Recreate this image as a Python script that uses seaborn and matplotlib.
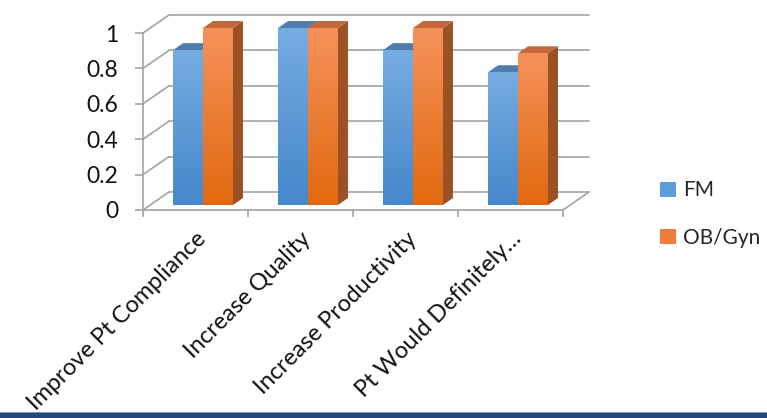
import numpy as np
import pandas as pd
import matplotlib
matplotlib.use("Agg")
import matplotlib.pyplot as plt
import seaborn as sns
from matplotlib.patches import Polygon, Rectangle, Patch
from matplotlib.lines import Line2D
from matplotlib.transforms import ScaledTranslation, IdentityTransform
from matplotlib.colors import LinearSegmentedColormap

# Survey results: share of respondents agreeing, by specialty
categories = ["Improve Pt Compliance", "Increase Quality",
              "Increase Productivity", "Pt Would Definitely…"]
fm_values = [0.875, 1.0, 0.875, 0.75]
obgyn_values = [1.0, 1.0, 1.0, 0.857]
series = ["FM", "OB/Gyn"]
y_ticks = [0, 0.2, 0.4, 0.6, 0.8, 1]
y_tick_labels = ["0", "0.2", "0.4", "0.6", "0.8", "1"]

df = pd.DataFrame({
    "category": categories * 2,
    "value": fm_values + obgyn_values,
    "series": [series[0]] * len(categories) + [series[1]] * len(categories),
})

sns.set_theme(style="white")
plt.rcParams["font.family"] = ["Lato", "DejaVu Sans"]

DPI = 100
W, H = 767, 418
fig = plt.figure(figsize=(W / DPI, H / DPI), dpi=DPI)
ax = fig.add_axes([143 / W, (H - 210) / H, 420 / W, 177 / H])

palette = {"FM": "#5B9BD5", "OB/Gyn": "#ED7D31"}
sns.barplot(data=df, x="category", y="value", hue="series", order=categories,
            hue_order=series, palette=palette, width=0.571, dodge=True,
            saturation=1, legend=False, ax=ax, zorder=3)
ax.set_xlim(-0.5, 3.5)
ax.set_ylim(0, 1)

GRAY = "#A3A3A3"
LW = 1.2
# pseudo-3D geometry (pixels)
BAR_DX, BAR_DY = 7.5, 5      # bars sit a bit behind the front axis
DEPTH_X, DEPTH_Y = 10, 7     # bar depth
WALL_DX, WALL_DY = 26, 18    # back wall offset


def px_shift(dx, dy):
    return ax.transData + ScaledTranslation(dx / DPI, dy / DPI, fig.dpi_scale_trans)


def disp(x, y, dx=0.0, dy=0.0):
    p = ax.transData.transform((x, y))
    return (p[0] + dx, p[1] + dy)


# back wall gridlines
for yv in y_ticks:
    ax.plot([-0.5, 3.5], [yv, yv], transform=px_shift(WALL_DX, WALL_DY),
            color=GRAY, lw=LW, zorder=1, clip_on=False)
    # left side-wall diagonals
    ax.add_line(Line2D(*zip(disp(-0.5, yv), disp(-0.5, yv, WALL_DX, WALL_DY)),
                       transform=IdentityTransform(), color=GRAY, lw=LW,
                       zorder=1, clip_on=False))
# floor right edge
ax.add_line(Line2D(*zip(disp(3.5, 0), disp(3.5, 0, WALL_DX, WALL_DY)),
                   transform=IdentityTransform(), color=GRAY, lw=LW,
                   zorder=1, clip_on=False))

grad = {
    "FM": LinearSegmentedColormap.from_list("fm", ["#4686CB", "#76ADE1"]),
    "OB/Gyn": LinearSegmentedColormap.from_list("ob", ["#E2690F", "#F5925A"]),
}
top_col = {"FM": "#517DAE", "OB/Gyn": "#C4683C"}
side_col = {"FM": "#3E6A9A", "OB/Gyn": "#9C5124"}

bars = list(ax.patches)
n = len(categories)
gradient = np.linspace(1, 0, 256).reshape(-1, 1)
for i, bar in enumerate(bars):
    key = series[i // n]
    x0, w, h = bar.get_x(), bar.get_width(), bar.get_height()
    x1 = x0 + w
    bar.set_transform(px_shift(BAR_DX, BAR_DY))
    bar.set_edgecolor("none")
    bar.set_clip_on(False)
    im = ax.imshow(gradient, cmap=grad[key], extent=[x0, x1, 0, h],
                   aspect="auto", zorder=3.5, interpolation="bilinear",
                   transform=px_shift(BAR_DX, BAR_DY))
    im.set_clip_on(False)
    side = [disp(x1, 0, BAR_DX, BAR_DY), disp(x1, 0, BAR_DX + DEPTH_X, BAR_DY + DEPTH_Y),
            disp(x1, h, BAR_DX + DEPTH_X, BAR_DY + DEPTH_Y), disp(x1, h, BAR_DX, BAR_DY)]
    top = [disp(x0, h, BAR_DX, BAR_DY), disp(x1, h, BAR_DX, BAR_DY),
           disp(x1, h, BAR_DX + DEPTH_X, BAR_DY + DEPTH_Y),
           disp(x0, h, BAR_DX + DEPTH_X, BAR_DY + DEPTH_Y)]
    ax.add_patch(Polygon(side, closed=True, transform=IdentityTransform(),
                         facecolor=side_col[key], edgecolor="none",
                         zorder=2 + 0.1 * (i // n), clip_on=False))
    ax.add_patch(Polygon(top, closed=True, transform=IdentityTransform(),
                         facecolor=top_col[key], edgecolor="none",
                         zorder=2 + 0.1 * (i // n), clip_on=False))

ax.set_xlim(-0.5, 3.5)
ax.set_ylim(0, 1)

# front axes
for s in ["top", "right"]:
    ax.spines[s].set_visible(False)
for s in ["left", "bottom"]:
    ax.spines[s].set_color(GRAY)
    ax.spines[s].set_linewidth(LW)
ax.set_yticks(y_ticks)
ax.set_yticklabels(y_tick_labels, fontsize=16.5, color="#111111")
ax.tick_params(axis="y", which="major", direction="out", length=6, width=LW,
               color=GRAY, pad=12, left=True)
ax.set_xticks(range(n))
ax.set_xticklabels(categories, rotation=45, ha="right", rotation_mode="anchor",
                   fontsize=17, color="#111111")
ax.set_xticks(np.arange(-0.5, n, 1.0), minor=True)
ax.tick_params(axis="x", which="major", length=0, pad=13)
ax.tick_params(axis="x", which="minor", direction="out", length=5, width=LW,
               color=GRAY, bottom=True)
ax.set_xlabel("")
ax.set_ylabel("")

# legend
handles = [Patch(facecolor="#5D9DD8", edgecolor="none", label="FM"),
           Patch(facecolor="#EF7E38", edgecolor="none", label="OB/Gyn")]
fig.legend(handles=handles, loc="center left", bbox_to_anchor=(650 / W, 1 - 214 / H),
           frameon=False, fontsize=15, handlelength=0.75, handleheight=0.75,
           handletextpad=0.35, labelspacing=1.3, borderpad=0)

# footer band, drawn over everything else
fig.add_artist(Rectangle((0, 0), 1, 6 / H, transform=fig.transFigure,
                         facecolor="#24487A", edgecolor="none", zorder=10))
fig.add_artist(Rectangle((0, 5 / H), 1, 1.5 / H, transform=fig.transFigure,
                         facecolor="#7F95B4", edgecolor="none", zorder=10))

fig.savefig("out.png", dpi=DPI)
